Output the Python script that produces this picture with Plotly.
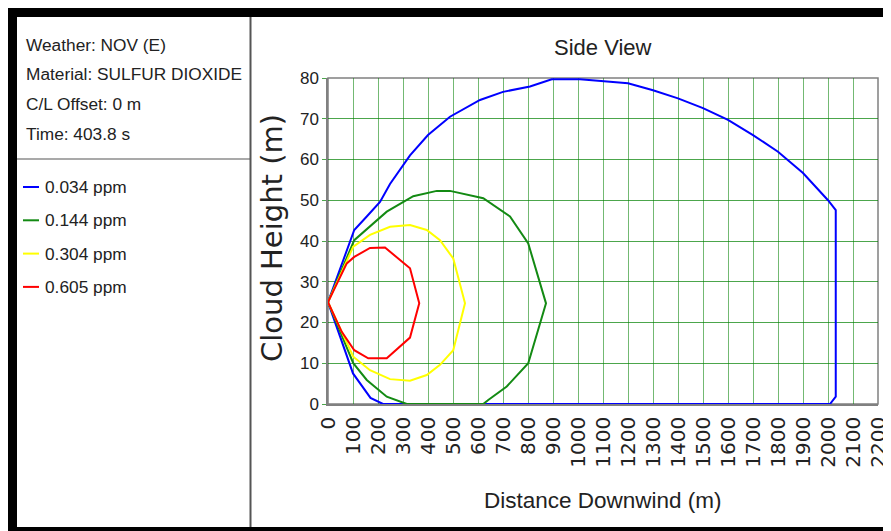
import plotly.graph_objects as go

# ---- data ----
blue_x = [0, 105, 155, 208, 248, 328, 400, 488, 608, 700, 808, 895, 1008, 1100, 1200, 1300, 1400,
          1500, 1600, 1700, 1800, 1900, 2000, 2031, 2031, 2008, 220, 170, 100, 0]
blue_y = [25, 42.7, 46, 49.6, 54, 61, 66, 70.5, 74.6, 76.6, 77.9, 79.7, 79.7, 79.3, 78.7, 77, 75,
          72.6, 69.7, 66, 61.9, 56.7, 50, 47.6, 1.8, 0, 0, 1.5, 7.5, 25]

green_x = [0, 105, 235, 341, 435, 488, 621, 728, 801, 872, 801, 715, 641, 621, 315, 235, 155, 101, 0]
green_y = [25, 40.2, 47.2, 51, 52.3, 52.3, 50.5, 46, 39.4, 24.7, 10, 4.3, 1, 0, 0, 1.8, 5.9, 10, 25]

yellow_x = [0, 101, 168, 248, 328, 395, 448, 501, 548, 501, 448, 395, 328, 248, 168, 101, 0]
yellow_y = [25, 38.6, 41.5, 43.5, 43.9, 42.7, 40.2, 35.7, 24.7, 13.2, 9.6, 7.1, 5.7, 6.1, 8.3, 11.6, 25]

red_x = [0, 75, 105, 168, 228, 328, 365, 328, 235, 161, 105, 55, 0]
red_y = [25, 34.5, 36.1, 38.3, 38.4, 33.3, 24.7, 16.3, 11.2, 11.2, 13.2, 17.7, 25]

series_names = ["0.034 ppm", "0.144 ppm", "0.304 ppm", "0.605 ppm"]
series_colors = ["#0000ff", "#138a13", "#ffff00", "#ff0000"]
info_lines = ["Weather: NOV (E)", "Material: SULFUR DIOXIDE", "C/L Offset: 0 m", "Time: 403.8 s"]

x_ticks = list(range(0, 2201, 100))
y_ticks = list(range(0, 81, 10))

# ---- layout geometry (window pixels; page body has an 8px margin) ----
WIN_W, WIN_H = 891, 531
OFF = 8
W, H = WIN_W - OFF, WIN_H - OFF
L, R, T, B = 328, 878, 78, 404


def px(p):
    return (p - L) / (R - L)


def py(p):
    return (B - p) / (B - T)


SANS = "Liberation Sans, Arial, sans-serif"
WIDE = "DejaVu Sans, Verdana, sans-serif"
TXT = "#222222"

fig = go.Figure()
for xs, ys, name, col in zip([blue_x, green_x, yellow_x, red_x],
                             [blue_y, green_y, yellow_y, red_y],
                             series_names, series_colors):
    fig.add_trace(go.Scatter(x=xs, y=ys, mode="lines", name=name,
                             line=dict(color=col, width=2), showlegend=False,
                             cliponaxis=False))

shapes = []
# outer black frame
shapes.append(dict(type="rect", xref="paper", yref="paper", x0=px(8), x1=px(WIN_W), y0=py(8), y1=py(17),
                   fillcolor="black", line=dict(width=0), layer="above"))
shapes.append(dict(type="rect", xref="paper", yref="paper", x0=px(8), x1=px(17), y0=py(8), y1=py(WIN_H),
                   fillcolor="black", line=dict(width=0), layer="above"))
shapes.append(dict(type="rect", xref="paper", yref="paper", x0=px(8), x1=px(WIN_W), y0=py(527), y1=py(WIN_H),
                   fillcolor="black", line=dict(width=0), layer="above"))
# panel dividers
shapes.append(dict(type="line", xref="paper", yref="paper", x0=px(250.5), x1=px(250.5), y0=py(17), y1=py(527),
                   line=dict(color="#555555", width=2)))
shapes.append(dict(type="line", xref="paper", yref="paper", x0=px(17), x1=px(250), y0=py(159), y1=py(159),
                   line=dict(color="#555555", width=1.2)))
# plot frame
shapes.append(dict(type="rect", xref="paper", yref="paper", x0=0, x1=1, y0=0, y1=1,
                   line=dict(color="#808080", width=1.5), layer="below"))

annotations = []
for i, t in enumerate(info_lines):
    annotations.append(dict(text=t, xref="paper", yref="paper", x=px(24), y=py(45 + 29.5 * i),
                            xanchor="left", yanchor="middle", showarrow=False,
                            font=dict(family=SANS, size=17.3, color=TXT)))
for i, (name, col) in enumerate(zip(series_names, series_colors)):
    yy = 187 + 33.3 * i
    shapes.append(dict(type="line", xref="paper", yref="paper", x0=px(23), x1=px(39), y0=py(yy), y1=py(yy),
                       line=dict(color=col, width=2)))
    annotations.append(dict(text=name, xref="paper", yref="paper", x=px(43), y=py(yy),
                            xanchor="left", yanchor="middle", showarrow=False,
                            font=dict(family=SANS, size=17.3, color=TXT)))

annotations.append(dict(text="Side View", xref="paper", yref="paper", x=px(603), y=py(47),
                        xanchor="center", yanchor="middle", showarrow=False,
                        font=dict(family=SANS, size=22, color=TXT)))
annotations.append(dict(text="Distance Downwind (m)", xref="paper", yref="paper", x=px(603), y=py(500),
                        xanchor="center", yanchor="middle", showarrow=False,
                        font=dict(family=SANS, size=22.5, color=TXT)))
annotations.append(dict(text="Cloud Height (m)", xref="paper", yref="paper", x=px(272), y=py(238),
                        xanchor="center", yanchor="middle", showarrow=False, textangle=-90,
                        font=dict(family=WIDE, size=29, color=TXT)))

fig.update_layout(
    width=W, height=H, autosize=False,
    margin=dict(l=L - OFF, r=WIN_W - R, t=T - OFF, b=WIN_H - B, pad=0, autoexpand=False),
    paper_bgcolor="white", plot_bgcolor="white",
    shapes=shapes, annotations=annotations,
    xaxis=dict(range=[0, 2200], tickvals=x_ticks, ticktext=[str(v) for v in x_ticks],
               tickangle=-90, showgrid=True, gridcolor="rgba(0,128,0,0.55)", gridwidth=1.2,
               zeroline=False, showline=True, linecolor="#808080", linewidth=1.5,
               ticks="outside", ticklen=3, tickcolor="rgba(0,0,0,0)", automargin=False,
               tickfont=dict(family=WIDE, size=20, color=TXT), fixedrange=True),
    yaxis=dict(range=[0, 80], tickvals=y_ticks, ticktext=[str(v) for v in y_ticks],
               showgrid=True, gridcolor="rgba(0,128,0,0.7)", gridwidth=1.2,
               zeroline=False, showline=True, linecolor="#808080", linewidth=1.5,
               ticks="outside", ticklen=4, tickcolor="rgba(0,128,0,0.7)", automargin=False,
               tickfont=dict(family=SANS, size=17, color=TXT), fixedrange=True),
)

fig.write_html("out.html")
